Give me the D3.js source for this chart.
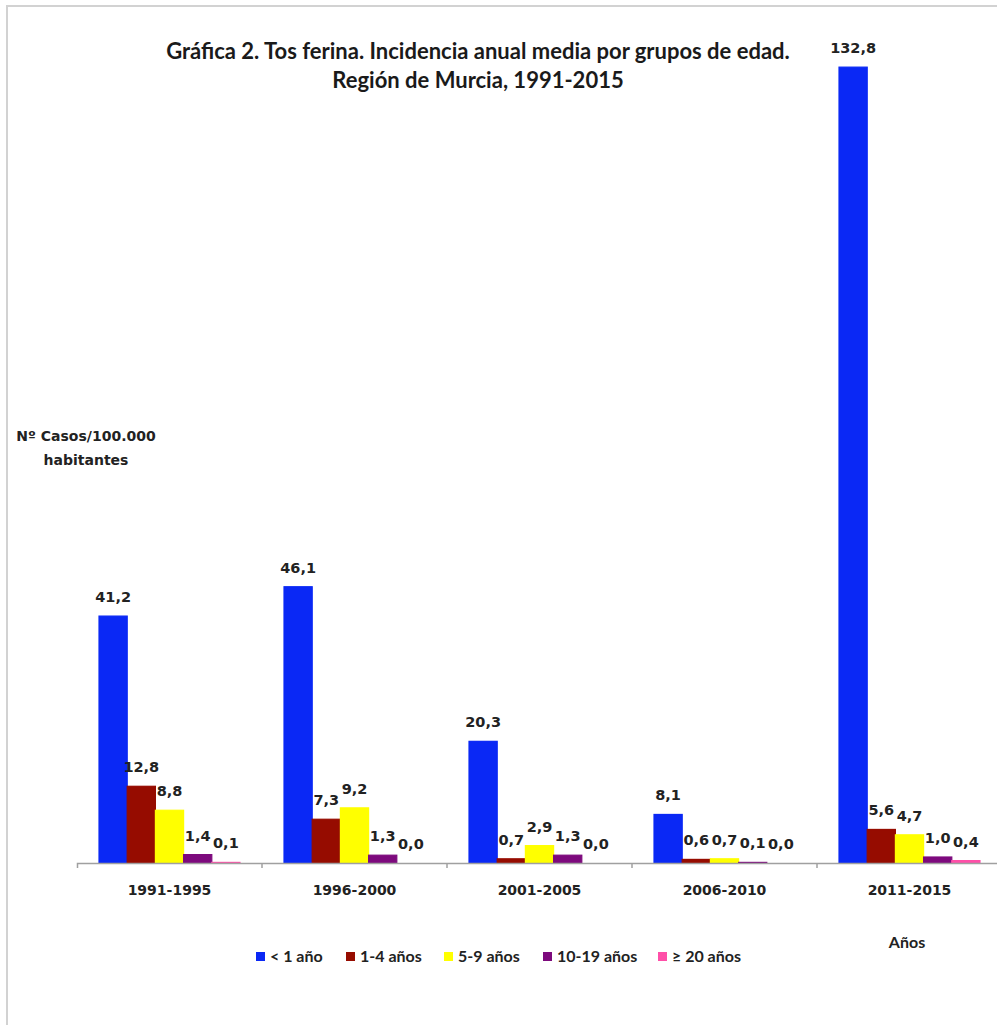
<!DOCTYPE html>
<html>
<head>
<meta charset="utf-8">
<title>Tos ferina</title>
<script src="https://d3js.org/d3.v7.min.js"></script>
<style>
  body { margin: 0; background: #fff; }
</style>
</head>
<body>
<div id="chart"></div>
<script>

let periods = ["1991-1995", "1996-2000", "2001-2005", "2006-2010", "2011-2015"];
let groups = ["< 1 año", "1-4 años", "5-9 años", "10-19 años", "≥ 20 años"];
let colors = ["#0a28f5", "#960c00", "#ffff00", "#7d0a7d", "#ff4fa8"];

let menos1 = [41.2, 46.1, 20.3, 8.1, 132.8];
let de1a4 = [12.8, 7.3, 0.7, 0.6, 5.6];
let de5a9 = [8.8, 9.2, 2.9, 0.7, 4.7];
let de10a19 = [1.4, 1.3, 1.3, 0.1, 1.0];
let mas20 = [0.1, 0.0, 0.0, 0.0, 0.4];

let series = [menos1, de1a4, de5a9, de10a19, mas20];

let w = 997, h = 1025;

let svg = d3.select("#chart").append("svg")
    .attr("width", w)
    .attr("height", h);

// marco gris
svg.append("path")
    .attr("d", "M7,1025 V6 H997")
    .attr("fill", "none")
    .attr("stroke", "#d2d2d2")
    .attr("stroke-width", 2);

let xScale = d3.scaleBand()
    .domain(periods)
    .range([77, 1002])
    .paddingInner(0.238)
    .paddingOuter(0.119);

let xInner = d3.scaleBand()
    .domain(groups)
    .range([0, xScale.bandwidth()]);

let yScale = d3.scaleLinear()
    .domain([0, 140])
    .range([863, 24]);

let fmt = d => d.toFixed(1).replace(".", ",");

let g = svg.selectAll("g.period")
    .data(periods)
    .enter()
    .append("g")
    .attr("class", "period")
    .attr("transform", d => "translate(" + xScale(d) + ",0)");

g.selectAll("rect")
    .data((p, i) => series.map((s, j) => ({group: groups[j], value: s[i], color: colors[j]})))
    .enter()
    .append("rect")
    .attr("x", d => xInner(d.group))
    .attr("y", d => yScale(d.value))
    .attr("width", xInner.bandwidth())
    .attr("height", d => yScale(0) - yScale(d.value))
    .attr("fill", d => d.color)
    .attr("stroke", d => d.value > 0 ? d.color : "none")
    .attr("stroke-width", 1.2);

g.selectAll("text")
    .data((p, i) => series.map((s, j) => ({group: groups[j], value: s[i]})))
    .enter()
    .append("text")
    .attr("x", d => xInner(d.group) + xInner.bandwidth() / 2)
    .attr("y", d => yScale(d.value) - 14)
    .attr("text-anchor", "middle")
    .attr("font-family", "DejaVu Sans")
    .attr("font-weight", "bold")
    .attr("font-size", "14.5px")
    .attr("fill", "#222")
    .text(d => fmt(d.value));

// eje x
let xAxis = d3.axisBottom(xScale)
    .tickSizeInner(0)
    .tickSizeOuter(5)
    .tickPadding(22);

let ax = svg.append("g")
    .attr("transform", "translate(0," + yScale(0) + ")")
    .call(xAxis);

ax.select(".domain").attr("stroke", "#a0a0a0").attr("stroke-width", 1.5);
ax.selectAll(".tick text")
    .attr("font-family", "DejaVu Sans")
    .attr("font-weight", "bold")
    .attr("font-size", "14px")
    .attr("fill", "#222");

let step = xScale.step();
ax.selectAll("line.sep")
    .data(periods.slice(1))
    .enter()
    .append("line")
    .attr("class", "sep")
    .attr("x1", d => xScale(d) - step * xScale.paddingInner() / 2)
    .attr("x2", d => xScale(d) - step * xScale.paddingInner() / 2)
    .attr("y1", 0)
    .attr("y2", 5)
    .attr("stroke", "#a0a0a0")
    .attr("stroke-width", 1.5);

// titulo
let title = svg.append("text")
    .attr("text-anchor", "middle")
    .attr("font-family", "Lato")
    .attr("font-weight", "bold")
    .attr("font-size", "22px")
    .attr("fill", "#1a1a1a");
title.append("tspan").attr("x", 478).attr("y", 59)
    .text("Gráfica 2. Tos ferina. Incidencia anual media por grupos de edad.");
title.append("tspan").attr("x", 478).attr("y", 88)
    .text("Región de Murcia, 1991-2015");

// titulo eje y
let ylab = svg.append("text")
    .attr("text-anchor", "middle")
    .attr("font-family", "DejaVu Sans")
    .attr("font-weight", "bold")
    .attr("font-size", "14px")
    .attr("fill", "#222");
ylab.append("tspan").attr("x", 86).attr("y", 441).text("Nº Casos/100.000");
ylab.append("tspan").attr("x", 86).attr("y", 465).text("habitantes");

svg.append("text")
    .attr("x", 907)
    .attr("y", 948)
    .attr("text-anchor", "middle")
    .attr("font-family", "Lato")
    .attr("font-weight", "bold")
    .attr("font-size", "16px")
    .attr("fill", "#222")
    .text("Años");

// leyenda
let legendX = [256, 346, 444, 543, 658];
let leg = svg.selectAll("g.legend")
    .data(groups)
    .enter()
    .append("g")
    .attr("class", "legend")
    .attr("transform", (d, i) => "translate(" + legendX[i] + ",952)");

leg.append("rect")
    .attr("width", 9)
    .attr("height", 9)
    .attr("fill", (d, i) => colors[i]);

leg.append("text")
    .attr("x", 14)
    .attr("y", 10)
    .attr("font-family", "Lato")
    .attr("font-weight", "bold")
    .attr("font-size", "16px")
    .attr("fill", "#222")
    .text(d => d);

</script>
</body>
</html>
